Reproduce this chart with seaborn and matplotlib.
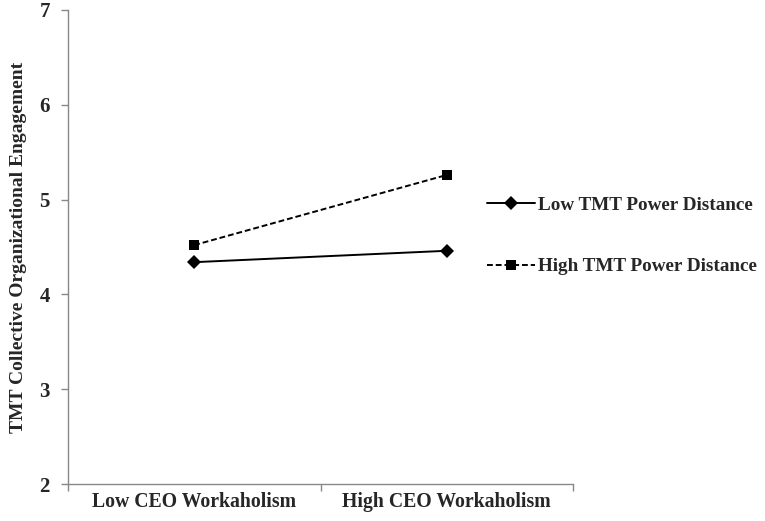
import matplotlib
matplotlib.use("Agg")
import matplotlib.pyplot as plt
import numpy as np
import pandas as pd
import seaborn as sb

sb.set_theme(style="white")
plt.rcParams['font.family'] = ['Liberation Serif', 'DejaVu Serif']
plt.rcParams['font.weight'] = 'bold'

# data
categories = ["Low CEO Workaholism", "High CEO Workaholism"]
series_names = ["Low TMT Power Distance", "High TMT Power Distance"]
low_pd = [4.34, 4.46]
high_pd = [4.52, 5.26]
y_ticks = [2, 3, 4, 5, 6, 7]

df = pd.DataFrame({
    "CEO": categories * 2,
    "Engagement": low_pd + high_pd,
    "Group": [series_names[0]] * 2 + [series_names[1]] * 2,
})

fig = plt.figure(figsize=(7.65, 5.21), dpi=100)
ax = fig.add_axes([68 / 765, 37 / 521, 505 / 765, 474 / 521])

sb.lineplot(data=df, x="CEO", y="Engagement", hue="Group", style="Group",
            palette=["black", "black"],
            markers={series_names[0]: "D", series_names[1]: "s"},
            dashes={series_names[0]: "", series_names[1]: (3, 1.5)},
            markersize=7.5, linewidth=1.4, markeredgewidth=0,
            sort=False, ax=ax)

# Excel-like axes: ticks between categories
ax.set_xlim(-0.5, len(categories) - 0.5)
ax.set_ylim(y_ticks[0], y_ticks[-1])
ax.set_yticks(y_ticks)
ax.set_xticks(np.arange(-0.5, len(categories)))
ax.set_xticklabels([])
ax.set_xticks(np.arange(len(categories)), minor=True)
ax.set_xticklabels(categories, minor=True, fontsize=14.2, fontweight='bold')
ax.tick_params(axis='x', which='minor', length=0, pad=6)
ax.tick_params(axis='x', which='major', length=5, width=1, color='#888888', direction='out', bottom=True)
ax.tick_params(axis='y', length=5, width=1, color='#888888', direction='out', left=True, labelsize=15, pad=8)
for lbl in ax.get_yticklabels():
    lbl.set_fontweight('bold')

for side in ['top', 'right']:
    ax.spines[side].set_visible(False)
for side in ['left', 'bottom']:
    ax.spines[side].set_color('#888888')
    ax.spines[side].set_linewidth(1)

ax.set_xlabel("")
ax.set_ylabel("TMT Collective Organizational Engagement", fontsize=14, fontweight='bold', labelpad=9)

ax.legend(loc='center left', bbox_to_anchor=(477 / 765, 1 - 236 / 521),
          bbox_transform=fig.transFigure, frameon=False, fontsize=13.8,
          handlelength=2.5, handletextpad=0.2, labelspacing=2.3,
          borderpad=0)
for t in ax.get_legend().get_texts():
    t.set_fontweight('bold')

fig.savefig("out.png", dpi=100)
